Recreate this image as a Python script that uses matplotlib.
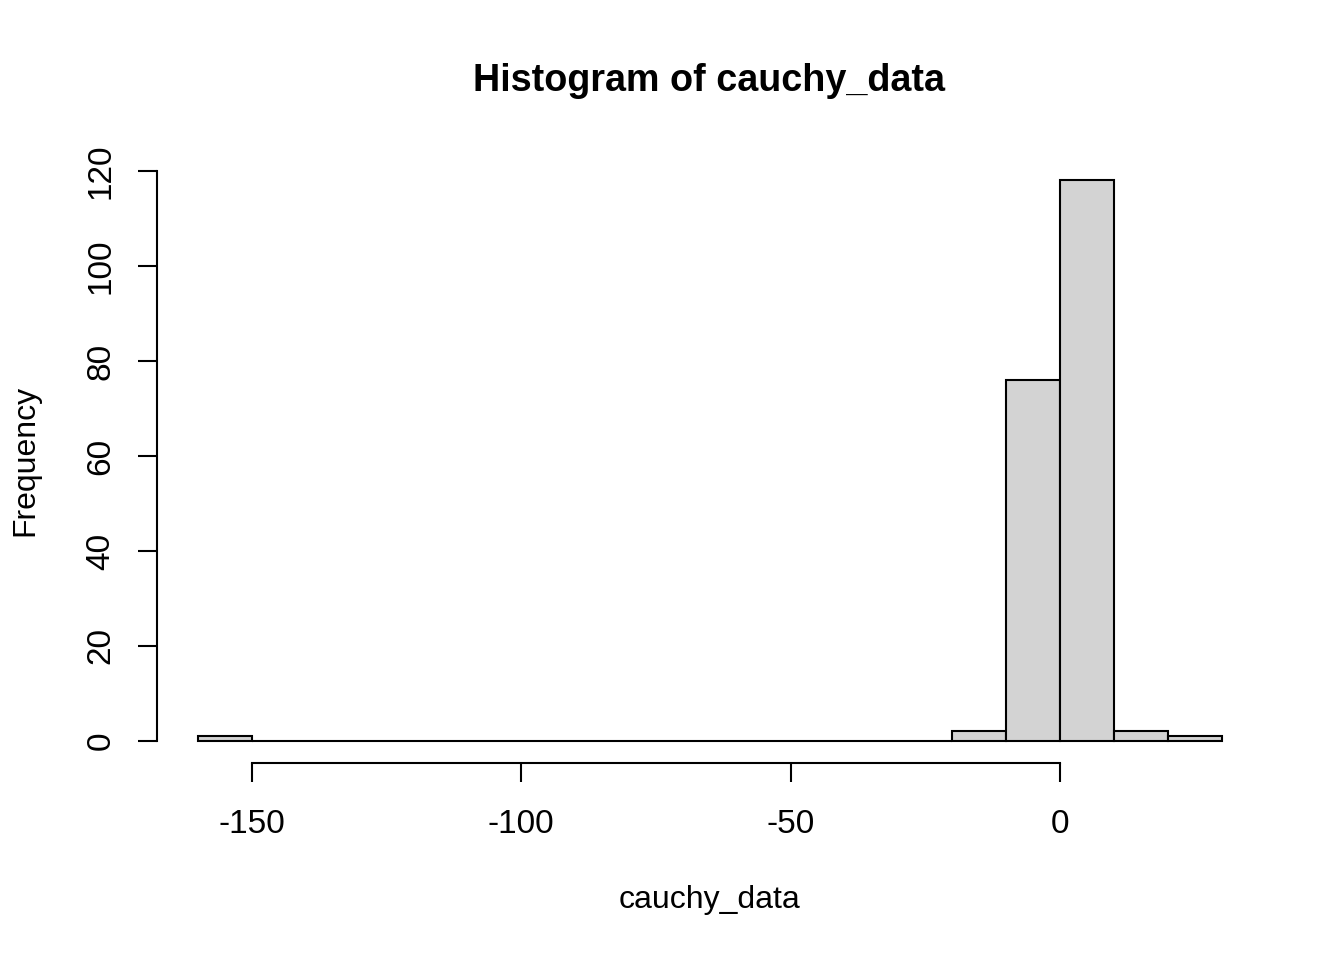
import matplotlib
matplotlib.use("Agg")
import matplotlib.pyplot as plt
import numpy as np

bin_edges = list(range(-160, 31, 10))
counts = [1, 0, 0, 0, 0, 0, 0, 0, 0, 0, 0, 0, 0, 0, 2, 76, 118, 2, 1]
x_ticks = [-150, -100, -50, 0]
y_ticks = [0, 20, 40, 60, 80, 100, 120]
title = "Histogram of cauchy_data"
xlabel = "cauchy_data"
ylabel = "Frequency"

plt.rcParams['font.family'] = ['Liberation Sans', 'DejaVu Sans']

W, H = 1344, 960
fig = plt.figure(figsize=(W / 100, H / 100), dpi=100)
ax = fig.add_axes([157/W, 1-763.4/H, (1262.5-157)/W, (763.4-158)/H])

lefts = np.array(bin_edges[:-1])
widths = np.diff(bin_edges)
ax.bar(lefts, counts, width=widths, align='edge', color='#d3d3d3',
       edgecolor='black', linewidth=1.5)

xmin, xmax = bin_edges[0], bin_edges[-1]
pad = 0.04 * (xmax - xmin)
ax.set_xlim(xmin - pad, xmax + pad)
ymax = max(counts)
ax.set_ylim(-0.04 * ymax, ymax * 1.04)

for s in ['top', 'right']:
    ax.spines[s].set_visible(False)
ax.spines['left'].set_bounds(y_ticks[0], y_ticks[-1])
ax.spines['bottom'].set_bounds(x_ticks[0], x_ticks[-1])
ax.spines['left'].set_linewidth(1.5)
ax.spines['bottom'].set_linewidth(1.5)

ax.set_xticks(x_ticks)
ax.set_xticklabels([str(t) for t in x_ticks])
ax.set_yticks(y_ticks)
ax.set_yticklabels([str(t) for t in y_ticks], rotation=90, va='center')
ax.tick_params(axis='both', length=14, width=1.5, labelsize=24)
ax.tick_params(axis='x', pad=19)
ax.tick_params(axis='y', pad=15)

fig.text(709/W, 1-81/H, title, fontsize=27.2, fontweight='bold',
         ha='center', va='center')
fig.text(709/W, 1-900/H, xlabel, fontsize=23, ha='center', va='center')
fig.text(25/W, 1-460/H, ylabel, fontsize=23, ha='center', va='center',
         rotation=90)

fig.savefig("out.png", dpi=100)
